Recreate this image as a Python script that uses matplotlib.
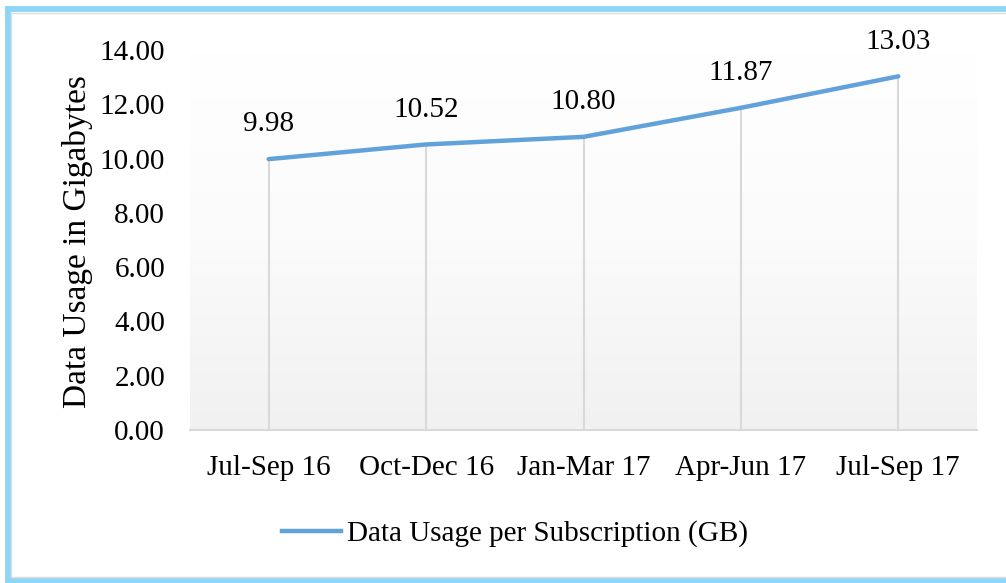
import matplotlib
matplotlib.use("Agg")
import matplotlib.pyplot as plt
import numpy as np
from matplotlib.lines import Line2D
from matplotlib.colors import LinearSegmentedColormap

categories = ["Jul-Sep 16", "Oct-Dec 16", "Jan-Mar 17", "Apr-Jun 17", "Jul-Sep 17"]
values = [9.98, 10.52, 10.80, 11.87, 13.03]
yticks = [0, 2, 4, 6, 8, 10, 12, 14]
series_name = "Data Usage per Subscription (GB)"
ylabel = "Data Usage in Gigabytes"

plt.rcParams['font.family'] = ['Liberation Serif', 'DejaVu Serif']
W, H = 1006, 583
fig = plt.figure(figsize=(W/100, H/100), dpi=100)

def fx(px): return px / W
def fy(py): return 1 - py / H

ax = fig.add_axes([fx(190), fy(430), fx(977) - fx(190), fy(50) - fy(430)])
x = np.arange(len(categories))
ax.set_xlim(-0.5, len(categories) - 0.5)
ax.set_ylim(0, 14)

# gradient background
grad = np.linspace(0, 1, 256).reshape(-1, 1)
cmap = LinearSegmentedColormap.from_list("g", ["#f1f1f1", "#fbfbfb", "#ffffff"])
ax.imshow(grad, aspect='auto', cmap=cmap, extent=[-0.5, len(categories) - 0.5, 0, 14],
          origin='lower', zorder=0)

line_color = "#62a2da"
ax.vlines(x, 0, values, colors="#d9d9d9", linewidth=1.5, zorder=1)
ax.plot(x, values, color=line_color, linewidth=3.2, solid_capstyle='round', zorder=3)
for xi, v in zip(x, values):
    ax.annotate(f"{v:.2f}", (xi, v), xytext=(0, 20), textcoords='offset points',
                ha='center', va='baseline', fontsize=21, color='black')

ax.set_yticks(yticks)
ax.set_yticklabels([f"{t:.2f}" for t in yticks], fontsize=21)
ax.set_xticks(x)
ax.set_xticklabels(categories, fontsize=21)
ax.tick_params(axis='both', length=0)
ax.tick_params(axis='y', pad=18)
ax.tick_params(axis='x', pad=18)
for s in ['left', 'right', 'top']:
    ax.spines[s].set_visible(False)
ax.spines['bottom'].set_color('#d9d9d9')
ax.spines['bottom'].set_linewidth(1.5)
ax.spines['bottom'].set_zorder(2)

fig.text(fx(78), fy(242), ylabel, rotation=90, ha='center', va='center', fontsize=24)

# legend
handle = Line2D([0], [0], color=line_color, linewidth=3.2)
fig.legend([handle], [series_name], loc='center', bbox_to_anchor=(fx(515), fy(534)),
           frameon=False, fontsize=21, handlelength=2.0, handletextpad=0.2)

# border (left, top, bottom only; right edge is cut off)
blue = "#8ed6f5"
fig.add_artist(Line2D([fx(7.5), fx(7.5)], [fy(6), fy(583)], transform=fig.transFigure,
                      color=blue, linewidth=4.2, solid_capstyle='butt'))
fig.add_artist(Line2D([fx(5), 1.0], [fy(9), fy(9)], transform=fig.transFigure,
                      color=blue, linewidth=4.2, solid_capstyle='butt'))
fig.add_artist(Line2D([fx(5), 1.0], [fy(580.5), fy(580.5)], transform=fig.transFigure,
                      color=blue, linewidth=4.2, solid_capstyle='butt'))
gray = "#dcdcdc"
fig.add_artist(Line2D([fx(11), fx(11)], [fy(12.5), fy(577)], transform=fig.transFigure,
                      color=gray, linewidth=1))
fig.add_artist(Line2D([fx(11), 1.0], [fy(12.5), fy(12.5)], transform=fig.transFigure,
                      color=gray, linewidth=1))
fig.add_artist(Line2D([fx(11), 1.0], [fy(577), fy(577)], transform=fig.transFigure,
                      color=gray, linewidth=1))

fig.savefig("out.png", dpi=100)
